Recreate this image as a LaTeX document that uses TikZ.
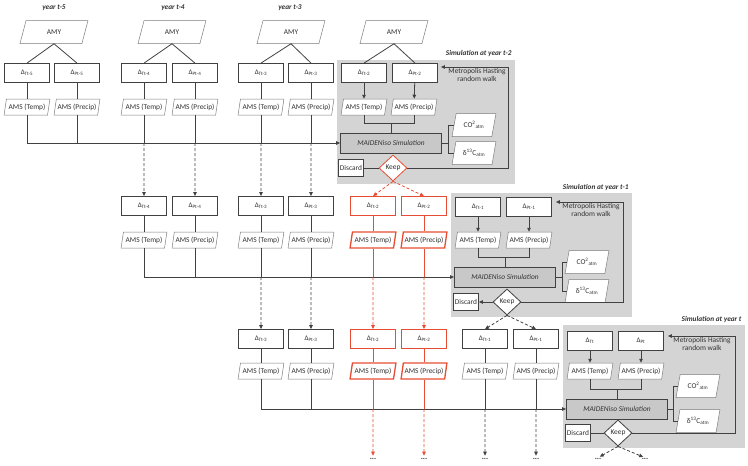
\documentclass[tikz,border=0pt]{standalone}
\usepackage{fontspec}
\setmainfont{Carlito}
\usetikzlibrary{shapes.geometric,arrows.meta,calc}

\definecolor{linegrey}{RGB}{65,65,65}
\definecolor{amsgrey}{RGB}{125,125,125}
\definecolor{panelgrey}{RGB}{212,212,212}
\definecolor{simgrey}{RGB}{200,200,200}
\definecolor{keepred}{RGB}{232,76,50}
\definecolor{textgrey}{RGB}{50,50,50}

\tikzset{
  txt/.style={font=\fontsize{7.4}{8.4}\selectfont, text=textgrey},
  deltabox/.style={draw=linegrey, line width=0.8pt, fill=white, minimum width=45pt, minimum height=19pt, inner sep=0pt, font=\fontsize{7}{7.5}\selectfont, text=textgrey},
  reddelta/.style={deltabox, draw=keepred},
  parbox/.style={trapezium, trapezium left angle=72, trapezium right angle=108, trapezium stretches=true, draw=amsgrey, line width=0.5pt, fill=white, inner sep=0pt, txt},
  amsbox/.style={parbox, minimum width=46pt, minimum height=16pt},
  redams/.style={amsbox, draw=keepred, line width=1.3pt},
  amybox/.style={parbox, minimum width=68pt, minimum height=23pt},
  atmbox/.style={parbox, minimum width=44pt, minimum height=23pt},
  simbox/.style={draw=linegrey, line width=0.8pt, fill=simgrey, minimum width=101pt, minimum height=20pt, inner sep=0pt, txt, font=\fontsize{7.4}{8.4}\selectfont\itshape},
  discardbox/.style={draw=linegrey, line width=0.8pt, fill=white, minimum width=25pt, minimum height=17pt, inner sep=0pt, txt},
  keepdia/.style={diamond, draw=linegrey, line width=0.8pt, fill=white, minimum width=28pt, minimum height=26pt, inner sep=0pt, txt},
  keepred/.style={keepdia, draw=keepred},
  yearlabel/.style={font=\fontsize{7.3}{8.4}\selectfont\bfseries\itshape, text=textgrey},
  mhlabel/.style={txt, align=center, inner sep=0pt},
  dotnode/.style={font=\fontsize{8}{8}\selectfont\bfseries, text=textgrey, inner sep=0.5pt},
  conn/.style={draw=linegrey, line width=0.8pt},
  arr/.style={conn, -{Triangle[length=4pt,width=3.5pt]}},
  dasharr/.style={arr, dash pattern=on 3pt off 2pt},
  redline/.style={draw=keepred, line width=0.8pt},
  reddash/.style={redline, dash pattern=on 3pt off 2pt, -{Triangle[length=4pt,width=3.5pt]}},
}

\begin{document}
\begin{tikzpicture}[x=1pt, y=-1pt]
	\useasboundingbox (0,0) rectangle (748,466);

	% Simulation panels
	\fill[panelgrey] (337,60) rectangle (515,184);
	\fill[panelgrey] (451,193) rectangle (632,317);
	\fill[panelgrey] (563,325) rectangle (745,448);

	% Labels
	\node[yearlabel] (yr5) at (54,8) {year t-5};
	\node[yearlabel] (yr4) at (173,8) {year t-4};
	\node[yearlabel] (yr3) at (290,8) {year t-3};
	\node[yearlabel, anchor=east] (labm2) at (515,54) {Simulation at year t-2};
	\node[yearlabel, anchor=east] (labm1) at (632,188) {Simulation at year t-1};
	\node[yearlabel, anchor=east] (labm0) at (745,320) {Simulation at year t};

	% Bus lines
	\coordinate (bus1) at (0,143);
	\coordinate (bus2) at (0,277);
	\coordinate (bus3) at (0,409);

	% Row 1 nodes
	\node[amybox] (amy5) at (54,32) {AMY};
	\node[amybox] (amy4) at (172,32) {AMY};
	\node[amybox] (amy3) at (291,32) {AMY};
	\node[amybox] (amy2) at (394,32) {AMY};
	\node[deltabox] (dT5a) at (27,73) {Δ\textsubscript{Tt-5}};
	\node[deltabox] (dP5a) at (77,73) {Δ\textsubscript{Pt-5}};
	\node[deltabox] (dT4a) at (144,73) {Δ\textsubscript{Tt-4}};
	\node[deltabox] (dP4a) at (195,73) {Δ\textsubscript{Pt-4}};
	\node[deltabox] (dT3a) at (261,73) {Δ\textsubscript{Tt-3}};
	\node[deltabox] (dP3a) at (311,73) {Δ\textsubscript{Pt-3}};
	\node[deltabox] (dT2a) at (364,73) {Δ\textsubscript{Tt-2}};
	\node[deltabox] (dP2a) at (415,73) {Δ\textsubscript{Pt-2}};
	\node[amsbox] (aT5a) at (27,107) {AMS (Temp)};
	\node[amsbox] (aP5a) at (77,107) {AMS (Precip)};
	\node[amsbox] (aT4a) at (144,107) {AMS (Temp)};
	\node[amsbox] (aP4a) at (195,107) {AMS (Precip)};
	\node[amsbox] (aT3a) at (261,107) {AMS (Temp)};
	\node[amsbox] (aP3a) at (311,107) {AMS (Precip)};
	\node[amsbox] (aT2a) at (364,107) {AMS (Temp)};
	\node[amsbox] (aP2a) at (414,107) {AMS (Precip)};

	% Panel t-2 nodes
	\node[simbox] (simm2) at (391,143) {MAIDENiso Simulation};
	\node[atmbox] (co2m2) at (474,125) {CO\textsuperscript{2}\textsubscript{atm}};
	\node[atmbox] (dcm2) at (474,153) {δ\textsuperscript{13}C\textsubscript{atm}};
	\node[discardbox] (discm2) at (351,168) {Discard};
	\node[keepred] (keepm2) at (393,168) {Keep};
	\node[mhlabel, anchor=north] (mhtm2) at (477,68) {Metropolis Hasting\\random walk};

	% Row 2 nodes
	\node[deltabox] (dT4b) at (144,206) {Δ\textsubscript{Tt-4}};
	\node[deltabox] (dP4b) at (195,206) {Δ\textsubscript{Pt-4}};
	\node[deltabox] (dT3b) at (261,206) {Δ\textsubscript{Tt-3}};
	\node[deltabox] (dP3b) at (311,206) {Δ\textsubscript{Pt-3}};
	\node[reddelta] (dT2b) at (373,206) {Δ\textsubscript{Tt-2}};
	\node[reddelta] (dP2b) at (424,206) {Δ\textsubscript{Pt-2}};
	\node[deltabox] (dT1b) at (478,207) {Δ\textsubscript{Tt-1}};
	\node[deltabox] (dP1b) at (529,207) {Δ\textsubscript{Pt-1}};
	\node[amsbox] (aT4b) at (144,240) {AMS (Temp)};
	\node[amsbox] (aP4b) at (195,240) {AMS (Precip)};
	\node[amsbox] (aT3b) at (261,240) {AMS (Temp)};
	\node[amsbox] (aP3b) at (311,240) {AMS (Precip)};
	\node[redams] (aT2b) at (373,240) {AMS (Temp)};
	\node[redams] (aP2b) at (424,240) {AMS (Precip)};
	\node[amsbox] (aT1b) at (478,240) {AMS (Temp)};
	\node[amsbox] (aP1b) at (529,240) {AMS (Precip)};

	% Panel t-1 nodes
	\node[simbox] (simm1) at (505,277) {MAIDENiso Simulation};
	\node[atmbox] (co2m1) at (587,262) {CO\textsuperscript{2}\textsubscript{atm}};
	\node[atmbox] (dcm1) at (587,291) {δ\textsuperscript{13}C\textsubscript{atm}};
	\node[discardbox] (discm1) at (466,302) {Discard};
	\node[keepdia] (keepm1) at (507,302) {Keep};
	\node[mhlabel, anchor=north] (mhtm1) at (591,203) {Metropolis Hasting\\random walk};

	% Row 3 nodes
	\node[deltabox] (dT3c) at (261,339) {Δ\textsubscript{Tt-3}};
	\node[deltabox] (dP3c) at (311,339) {Δ\textsubscript{Pt-3}};
	\node[reddelta] (dT2c) at (373,339) {Δ\textsubscript{Tt-2}};
	\node[reddelta] (dP2c) at (424,339) {Δ\textsubscript{Pt-2}};
	\node[deltabox] (dT1c) at (485,339) {Δ\textsubscript{Tt-1}};
	\node[deltabox] (dP1c) at (536,339) {Δ\textsubscript{Pt-1}};
	\node[deltabox] (dT0c) at (590,341) {Δ\textsubscript{Tt}};
	\node[deltabox] (dP0c) at (641,341) {Δ\textsubscript{Pt}};
	\node[amsbox] (aT3c) at (261,371) {AMS (Temp)};
	\node[amsbox] (aP3c) at (311,371) {AMS (Precip)};
	\node[redams] (aT2c) at (373,371) {AMS (Temp)};
	\node[redams] (aP2c) at (424,371) {AMS (Precip)};
	\node[amsbox] (aT1c) at (485,371) {AMS (Temp)};
	\node[amsbox] (aP1c) at (536,371) {AMS (Precip)};
	\node[amsbox] (aT0c) at (590,371) {AMS (Temp)};
	\node[amsbox] (aP0c) at (641,371) {AMS (Precip)};

	% Panel t nodes
	\node[simbox] (simm0) at (617,409) {MAIDENiso Simulation};
	\node[atmbox] (co2m0) at (698,386) {CO\textsuperscript{2}\textsubscript{atm}};
	\node[atmbox] (dcm0) at (698,421) {δ\textsuperscript{13}C\textsubscript{atm}};
	\node[discardbox] (discm0) at (578,433) {Discard};
	\node[keepdia] (keepm0) at (618,433) {Keep};
	\node[mhlabel, anchor=north] (mhtm0) at (702,337) {Metropolis Hasting\\random walk};

	% Dots
	\node[dotnode] (dotR1) at (373,459) {...};
	\node[dotnode] (dotR2) at (424,459) {...};
	\node[dotnode] (dotT1) at (485,459) {...};
	\node[dotnode] (dotP1) at (536,459) {...};
	\node[dotnode] (dotK1) at (598,459) {...};
	\node[dotnode] (dotK2) at (645,459) {...};

	% Edges row 1
	\foreach \y in {5,4,3,2} {
		\draw[conn] (amy\y.south) -- (dT\y a.north);
		\draw[conn] (amy\y.south) -- (dP\y a.north);
	}
	\foreach \y in {5,4,3} {
		\draw[conn] (dT\y a) -- (aT\y a);
		\draw[conn] (dP\y a) -- (aP\y a);
		\draw[conn] (aT\y a.south) -- (aT\y a.south |- bus1);
		\draw[conn] (aP\y a.south) -- (aP\y a.south |- bus1);
	}
	\draw[arr] (aT5a.south |- bus1) -- (simm2.west);
	\foreach \y in {4,3} {
		\draw[dasharr] (aT\y a.south |- bus1) -- (dT\y b.north);
		\draw[dasharr] (aP\y a.south |- bus1) -- (dP\y b.north);
	}

	% Edges panel t-2
	\coordinate (joinm2) at ($(simm2.north)+(0,-9)$);
	\draw[arr] (dT2a) -- (aT2a);
	\draw[arr] (dP2a) -- (aP2a);
	\draw[conn] (aT2a.south) |- (joinm2) -| (aP2a.south);
	\draw[conn] (joinm2) -- (simm2.north);
	\coordinate (brkm2) at ($(simm2.east)+(6,0)$);
	\draw[conn] (simm2.east) -- (brkm2);
	\draw[conn] (co2m2.west) -- (co2m2.west -| brkm2) -- (dcm2.west -| brkm2) -- (dcm2.west);
	\draw[conn] (discm2) -- (keepm2);
	\coordinate (fbm2) at (508,67);
	\coordinate (mhm2) at ($(dP2a.east)+(3,-6)$);
	\draw[arr] (keepm2.east) -| (fbm2) -- (mhm2);
	\draw[reddash] (keepm2.south) -- (dT2b.north);
	\draw[reddash] (keepm2.south) -- (dP2b.north);

	% Edges row 2
	\foreach \y in {4,3} {
		\draw[conn] (dT\y b) -- (aT\y b);
		\draw[conn] (dP\y b) -- (aP\y b);
		\draw[conn] (aT\y b.south) -- (aT\y b.south |- bus2);
		\draw[conn] (aP\y b.south) -- (aP\y b.south |- bus2);
	}
	\draw[arr] (aT4b.south |- bus2) -- (simm1.west);
	\draw[dasharr] (aT3b.south |- bus2) -- (dT3c.north);
	\draw[dasharr] (aP3b.south |- bus2) -- (dP3c.north);
	\draw[redline] (dT2b) -- (aT2b);
	\draw[redline] (dP2b) -- (aP2b);
	\draw[redline] (aT2b.south) -- (aT2b.south |- bus2);
	\draw[redline] (aP2b.south) -- (aP2b.south |- bus2);
	\draw[reddash] (aT2b.south |- bus2) -- (dT2c.north);
	\draw[reddash] (aP2b.south |- bus2) -- (dP2c.north);

	% Edges panel t-1
	\coordinate (joinm1) at ($(simm1.north)+(0,-9)$);
	\draw[arr] (dT1b) -- (aT1b);
	\draw[arr] (dP1b) -- (aP1b);
	\draw[conn] (aT1b.south) |- (joinm1) -| (aP1b.south);
	\draw[conn] (joinm1) -- (simm1.north);
	\coordinate (brkm1) at ($(simm1.east)+(6,0)$);
	\draw[conn] (simm1.east) -- (brkm1);
	\draw[conn] (co2m1.west) -- (co2m1.west -| brkm1) -- (dcm1.west -| brkm1) -- (dcm1.west);
	\draw[arr] (keepm1) -- (discm1);
	\coordinate (fbm1) at (623,202);
	\coordinate (mhm1) at ($(dP1b.east)+(4,-5)$);
	\draw[arr] (keepm1.east) -| (fbm1) -- (mhm1);
	\draw[dasharr] (keepm1.south) -- (dT1c.north);
	\draw[dasharr] (keepm1.south) -- (dP1c.north);

	% Edges row 3
	\foreach \y in {3,1} {
		\draw[conn] (dT\y c) -- (aT\y c);
		\draw[conn] (dP\y c) -- (aP\y c);
		\draw[conn] (aT\y c.south) -- (aT\y c.south |- bus3);
		\draw[conn] (aP\y c.south) -- (aP\y c.south |- bus3);
	}
	\draw[arr] (aT3c.south |- bus3) -- (simm0.west);
	\draw[redline] (dT2c) -- (aT2c);
	\draw[redline] (dP2c) -- (aP2c);
	\draw[redline] (aT2c.south) -- (aT2c.south |- bus3);
	\draw[redline] (aP2c.south) -- (aP2c.south |- bus3);
	\draw[reddash, shorten >=2pt] (aT2c.south |- bus3) -- (dotR1.north);
	\draw[reddash, shorten >=2pt] (aP2c.south |- bus3) -- (dotR2.north);
	\draw[dasharr, shorten >=2pt] (aT1c.south |- bus3) -- (dotT1.north);
	\draw[dasharr, shorten >=2pt] (aP1c.south |- bus3) -- (dotP1.north);

	% Edges panel t
	\coordinate (joinm0) at ($(simm0.north)+(0,-9)$);
	\draw[arr] (dT0c) -- (aT0c);
	\draw[arr] (dP0c) -- (aP0c);
	\draw[conn] (aT0c.south) |- (joinm0) -| (aP0c.south);
	\draw[conn] (joinm0) -- (simm0.north);
	\coordinate (brkm0) at ($(simm0.east)+(5,0)$);
	\draw[conn] (simm0.east) -- (brkm0);
	\draw[conn] (co2m0.west) -- (co2m0.west -| brkm0) -- (dcm0.west -| brkm0) -- (dcm0.west);
	\draw[conn] (discm0) -- (keepm0);
	\coordinate (fbm0) at (735,336);
	\coordinate (mhm0) at ($(dP0c.east)+(4,-5)$);
	\draw[arr] (keepm0.east) -| (fbm0) -- (mhm0);
	\draw[dasharr, shorten >=2pt] (keepm0.south) -- (dotK1.north);
	\draw[dasharr, shorten >=2pt] (keepm0.south) -- (dotK2.north);
\end{tikzpicture}
\end{document}
